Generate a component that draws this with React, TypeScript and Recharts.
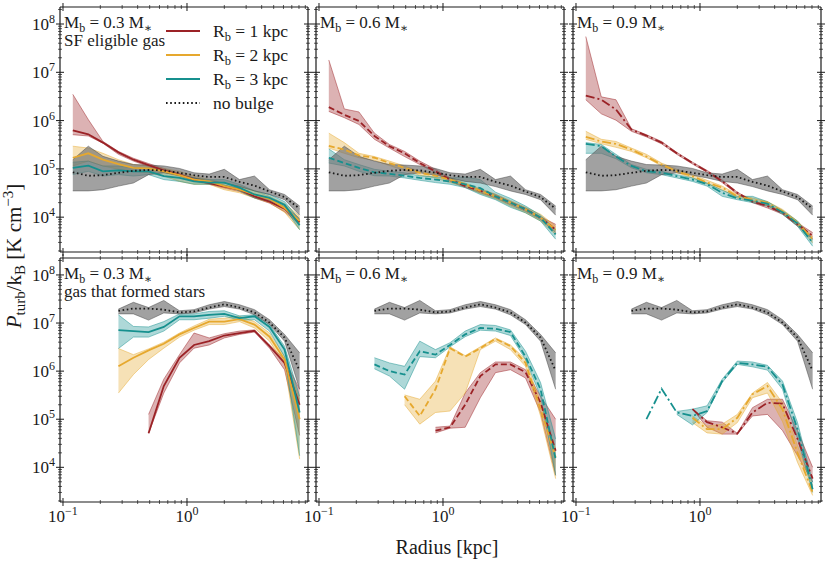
import React from 'react';
import { ComposedChart, Line, Area, XAxis, YAxis } from 'recharts';

const FONT = "'Liberation Serif', 'DejaVu Serif', serif";
const INK = '#1a1a1a';
const N = null;

// radial bin centres [kpc]
const RADII = [0.12, 0.16, 0.21, 0.28, 0.37, 0.49, 0.65, 0.87, 1.14, 1.51, 2.0, 2.65, 3.5, 4.63, 6.12, 8.1];

// axes
const X_DOMAIN = [0.0946, 9.46];
const Y_DOMAIN = [1.9e3, 2.25e8];
const X_MAJOR = [0.1, 1];
const X_MAJOR_EXP = ['\u22121', '0'];
const X_MINOR = [0.2, 0.3, 0.4, 0.5, 0.6, 0.7, 0.8, 0.9, 2, 3, 4, 5, 6, 7, 8, 9];
const Y_MAJOR = [1e4, 1e5, 1e6, 1e7, 1e8];
const Y_MAJOR_EXP = ['4', '5', '6', '7', '8'];
const Y_MINOR = [
  2e3, 3e3, 4e3, 5e3, 6e3, 7e3, 8e3, 9e3,
  2e4, 3e4, 4e4, 5e4, 6e4, 7e4, 8e4, 9e4,
  2e5, 3e5, 4e5, 5e5, 6e5, 7e5, 8e5, 9e5,
  2e6, 3e6, 4e6, 5e6, 6e6, 7e6, 8e6, 9e6,
  2e7, 3e7, 4e7, 5e7, 6e7, 7e7, 8e7, 9e7,
  2e8,
];
const X_TICKS = [...X_MAJOR, ...X_MINOR].sort((a, b) => a - b);
const Y_TICKS = [...Y_MAJOR, ...Y_MINOR].sort((a, b) => a - b);

// labels
const MASS_LABELS = ['0.3', '0.6', '0.9'];
const SUBTITLES = ['SF eligible gas', 'gas that formed stars'];
const LEGEND_RB = ['1', '2', '3'];
const LEGEND_NB = 'no bulge';
const X_LABEL = 'Radius [kpc]';

// ---------- top row: SF eligible gas ----------
const NB_TOP_MID = [8.5e4, 7.2e4, 7.4e4, 8.3e4, 9.1e4, 9.5e4, 9.3e4, 8.3e4, 7.4e4, 6.8e4, 6.8e4, 5.4e4, 4.5e4, 3.4e4, 2.6e4, 1.5e4];
const NB_TOP_HI = [1.55e5, 2.95e5, 1.82e5, 1.45e5, 1.23e5, 1.2e5, 1.15e5, 1.02e5, 8.3e4, 7.8e4, 9.8e4, 6.0e4, 7.1e4, 3.7e4, 2.95e4, 1.7e4];
const NB_TOP_LO = [3.5e4, 3.5e4, 3.7e4, 4.4e4, 5.1e4, 7.6e4, 8.3e4, 7.4e4, 6.5e4, 5.5e4, 5.1e4, 4.3e4, 3.5e4, 2.95e4, 2.3e4, 1.1e4];

const P1_R1_MID = [6.3e5, 5.2e5, 3.5e5, 2.2e5, 1.55e5, 1.2e5, 9.3e4, 7.6e4, 6.0e4, 5.1e4, 4.3e4, 3.7e4, 2.7e4, 2.1e4, 1.5e4, 7.9e3];
const P1_R1_HI = [3.5e6, 1.05e6, 3.7e5, 2.3e5, 1.66e5, 1.29e5, 1.02e5, 8.1e4, 6.5e4, 5.5e4, 4.6e4, 4.0e4, 2.95e4, 2.3e4, 1.66e4, 9.5e3];
const P1_R1_LO = [5.1e5, 4.8e5, 3.4e5, 2.0e5, 1.45e5, 1.12e5, 8.5e4, 7.1e4, 5.6e4, 4.8e4, 4.0e4, 3.4e4, 2.5e4, 1.95e4, 1.3e4, 7.1e3];
const P1_R2_MID = [1.7e5, 2.1e5, 1.55e5, 1.26e5, 1.05e5, 1.02e5, 8.9e4, 7.4e4, 6.0e4, 5.5e4, 4.4e4, 3.7e4, 2.95e4, 2.4e4, 1.55e4, 8.3e3];
const P1_R2_HI = [2.95e5, 2.7e5, 2.1e5, 1.55e5, 1.23e5, 1.15e5, 1.02e5, 8.9e4, 7.1e4, 6.0e4, 5.1e4, 4.4e4, 3.5e4, 2.7e4, 1.9e4, 1.05e4];
const P1_R2_LO = [1.15e5, 1.45e5, 1.15e5, 9.8e4, 8.9e4, 8.3e4, 7.1e4, 5.5e4, 4.8e4, 4.8e4, 3.7e4, 3.2e4, 2.5e4, 2.0e4, 1.26e4, 5.5e3];
const P1_R3_MID = [1.05e5, 1.17e5, 8.9e4, 9.3e4, 8.9e4, 8.9e4, 7.1e4, 6.5e4, 5.5e4, 5.2e4, 5.2e4, 4.1e4, 2.95e4, 2.5e4, 1.8e4, 6.8e3];
const P1_R3_HI = [1.38e5, 1.45e5, 1.15e5, 1.15e5, 1.05e5, 1.05e5, 8.9e4, 7.6e4, 6.5e4, 6.0e4, 6.0e4, 4.8e4, 3.5e4, 2.95e4, 2.1e4, 8.9e3];
const P1_R3_LO = [7.6e4, 8.9e4, 7.1e4, 7.6e4, 7.1e4, 7.6e4, 6.0e4, 5.5e4, 4.8e4, 4.8e4, 4.6e4, 3.5e4, 2.5e4, 2.1e4, 1.55e4, 5.5e3];

const P2_R1_MID = [1.9e6, 1.32e6, 9.8e5, 4.8e5, 2.95e5, 2.1e5, 1.32e5, 8.9e4, 6.0e4, 4.4e4, 3.5e4, 2.7e4, 2.0e4, 1.45e4, 9.8e3, 5.5e3];
const P2_R1_HI = [1.8e7, 1.74e6, 1.51e6, 5.5e5, 3.2e5, 2.3e5, 1.45e5, 9.8e4, 6.5e4, 4.8e4, 3.7e4, 2.95e4, 2.1e4, 1.55e4, 1.02e4, 7.1e3];
const P2_R1_LO = [1.55e6, 1.15e6, 8.3e5, 4.1e5, 2.7e5, 1.8e5, 1.23e5, 8.3e4, 5.5e4, 4.1e4, 3.2e4, 2.5e4, 1.8e4, 1.32e4, 8.9e3, 4.8e3];
const P2_R2_MID = [3.0e5, 2.5e5, 1.9e5, 1.7e5, 1.32e5, 1.05e5, 8.3e4, 7.2e4, 6.0e4, 4.8e4, 3.5e4, 2.7e4, 2.0e4, 1.45e4, 9.8e3, 5.5e3];
const P2_R2_HI = [5.5e5, 3.5e5, 2.1e5, 1.8e5, 1.45e5, 1.15e5, 8.9e4, 8.1e4, 6.5e4, 5.1e4, 3.9e4, 3.0e4, 2.2e4, 1.6e4, 1.15e4, 6.5e3];
const P2_R2_LO = [2.7e5, 2.1e5, 1.7e5, 1.5e5, 1.17e5, 9.3e4, 7.4e4, 6.5e4, 5.2e4, 4.3e4, 3.1e4, 2.4e4, 1.7e4, 1.23e4, 8.3e3, 4.4e3];
const P2_R3_MID = [1.7e5, 1.32e5, 1.05e5, 8.5e4, 7.9e4, 7.2e4, 6.5e4, 6.0e4, 5.5e4, 4.8e4, 4.0e4, 2.7e4, 2.0e4, 1.45e4, 9.8e3, 4.4e3];
const P2_R3_HI = [2.6e5, 1.55e5, 1.23e5, 9.8e4, 8.9e4, 8.3e4, 7.2e4, 6.8e4, 6.5e4, 6.8e4, 6.0e4, 3.3e4, 2.45e4, 1.7e4, 1.1e4, 5.5e3];
const P2_R3_LO = [1.32e5, 1.15e5, 8.9e4, 7.2e4, 7.1e4, 6.5e4, 5.8e4, 5.2e4, 4.8e4, 4.1e4, 2.95e4, 2.3e4, 1.6e4, 1.23e4, 8.3e3, 3.5e3];

const P3_R1_MID = [3.3e6, 2.7e6, 1.7e6, 6.5e5, 4.9e5, 3.5e5, 2.1e5, 1.32e5, 8.9e4, 5.5e4, 3.2e4, 2.1e4, 1.7e4, 1.23e4, 7.1e3, 4.1e3];
const P3_R1_HI = [5.5e7, 3.1e6, 2.7e6, 6.8e5, 5.1e5, 3.7e5, 2.2e5, 1.38e5, 9.3e4, 5.9e4, 3.3e4, 2.2e4, 1.8e4, 1.32e4, 7.6e3, 4.8e3];
const P3_R1_LO = [2.7e6, 1.38e6, 1.02e6, 6.0e5, 4.6e5, 3.3e5, 2.0e5, 1.26e5, 8.5e4, 5.2e4, 3.0e4, 2.0e4, 1.55e4, 1.15e4, 6.5e3, 3.5e3];
const P3_R2_MID = [4.6e5, 3.7e5, 3.3e5, 2.5e5, 1.8e5, 1.23e5, 8.9e4, 7.1e4, 5.2e4, 4.1e4, 2.7e4, 2.3e4, 2.0e4, 1.32e4, 7.6e3, 3.5e3];
const P3_R2_HI = [6.0e5, 4.1e5, 3.7e5, 2.7e5, 2.0e5, 1.32e5, 9.8e4, 7.6e4, 5.8e4, 4.4e4, 2.95e4, 2.5e4, 2.1e4, 1.45e4, 8.3e3, 3.9e3];
const P3_R2_LO = [4.1e5, 3.3e5, 2.8e5, 2.3e5, 1.7e5, 1.15e5, 8.3e4, 6.5e4, 4.9e4, 3.7e4, 2.5e4, 2.1e4, 1.74e4, 1.2e4, 6.8e3, 2.95e3];
const P3_R3_MID = [3.3e5, 2.95e5, 1.8e5, 1.15e5, 8.9e4, 8.3e4, 7.1e4, 6.0e4, 4.8e4, 3.2e4, 2.45e4, 2.2e4, 1.9e4, 1.26e4, 7.4e3, 2.95e3];
const P3_R3_HI = [3.5e5, 3.2e5, 2.0e5, 1.23e5, 9.8e4, 8.9e4, 7.6e4, 6.5e4, 5.1e4, 3.6e4, 2.7e4, 2.7e4, 2.1e4, 1.38e4, 8.3e3, 3.5e3];
const P3_R3_LO = [2.1e5, 2.1e5, 1.62e5, 1.05e5, 8.3e4, 7.6e4, 6.5e4, 5.5e4, 4.4e4, 2.7e4, 2.3e4, 2.0e4, 1.7e4, 1.15e4, 6.5e3, 2.5e3];

// ---------- bottom row: gas that formed stars ----------
const NB_BOT_MID = [N, N, N, 1.8e7, 2.0e7, 2.0e7, 1.9e7, 1.66e7, 1.74e7, 2.1e7, 2.45e7, 2.1e7, 1.66e7, 1.02e7, 5.0e6, 1.02e6];
const NB_BOT_HI = [N, N, N, 1.95e7, 2.7e7, 2.1e7, 2.95e7, 1.8e7, 1.9e7, 2.4e7, 2.8e7, 2.4e7, 1.9e7, 1.17e7, 5.8e6, 2.4e6];
const NB_BOT_LO = [N, N, N, 1.55e7, 1.55e7, 1.15e7, 1.62e7, 1.55e7, 1.62e7, 1.95e7, 2.2e7, 1.95e7, 1.48e7, 9.3e6, 4.2e6, 4.2e5];

const P4_R1_MID = [N, N, N, N, N, 5.1e4, 4.9e5, 1.9e6, 3.5e6, 4.2e6, 5.5e6, 6.2e6, 6.9e6, 3.3e6, 1.48e6, 2.0e5];
const P4_R1_HI = [N, N, N, N, N, 1.26e5, 6.8e5, 2.2e6, 6.2e6, 4.9e6, 6.0e6, 6.8e6, 7.2e6, 3.5e6, 1.74e6, 4.2e5];
const P4_R1_LO = [N, N, N, N, N, 5.1e4, 3.5e5, 1.48e6, 3.0e6, 3.5e6, 4.9e6, 5.8e6, 6.5e6, 3.0e6, 1.07e6, 4.6e4];
const P4_R2_MID = [N, N, N, 1.26e6, 1.9e6, 2.7e6, 3.7e6, 5.8e6, 7.9e6, 1.07e7, 1.07e7, 1.2e7, 9.3e6, 5.2e6, 1.74e6, 1.0e5];
const P4_R2_HI = [N, N, N, 2.95e6, 2.2e6, 2.9e6, 4.0e6, 6.2e6, 8.7e6, 1.2e7, 1.26e7, 1.38e7, 1.07e7, 6.2e6, 2.0e6, 2.6e5];
const P4_R2_LO = [N, N, N, 3.5e5, 8.5e5, 1.74e6, 3.0e6, 5.1e6, 7.1e6, 9.3e6, 9.3e6, 1.07e7, 7.9e6, 4.2e6, 1.38e6, 1.48e4];
const P4_R3_MID = [N, N, N, 7.1e6, 6.8e6, 6.5e6, 8.3e6, 1.38e7, 1.38e7, 1.48e7, 1.55e7, 1.26e7, 1.38e7, 8.3e6, 2.8e6, 1.38e5];
const P4_R3_HI = [N, N, N, 1.48e7, 8.5e6, 8.3e6, 1.07e7, 1.55e7, 1.55e7, 1.74e7, 1.8e7, 1.41e7, 1.48e7, 9.3e6, 3.3e6, 3.0e5];
const P4_R3_LO = [N, N, N, 2.95e6, 5.1e6, 5.1e6, 6.8e6, 1.17e7, 1.17e7, 1.26e7, 1.38e7, 1.15e7, 1.17e7, 6.8e6, 2.0e6, 1.74e4];

const P5_R1_MID = [N, N, N, N, N, N, N, 5.8e4, 6.8e4, 2.0e5, 7.9e5, 1.38e6, 1.38e6, 9.5e5, 2.2e5, 2.2e4];
const P5_R1_HI = [N, N, N, N, N, N, N, 6.8e4, 7.2e4, 3.5e5, 9.3e5, 1.55e6, 1.55e6, 1.07e6, 3.0e5, 1.0e5];
const P5_R1_LO = [N, N, N, N, N, N, N, 5.2e4, 6.5e4, 6.8e4, 2.8e5, 9.3e5, 1.07e6, 7.2e5, 1.38e5, 6.8e3];
const P5_R2_MID = [N, N, N, N, N, 3.0e5, 1.17e5, 4.2e5, 3.0e6, 2.0e6, 3.0e6, 4.7e6, 3.3e6, 1.48e6, 1.62e5, 1.62e4];
const P5_R2_HI = [N, N, N, N, N, 3.2e5, 2.6e5, 6.2e5, 3.2e6, 2.1e6, 3.2e6, 4.9e6, 3.5e6, 1.74e6, 2.2e5, 2.4e4];
const P5_R2_LO = [N, N, N, N, N, 2.0e5, 7.9e4, 1.38e5, 1.48e5, 3.5e5, 2.8e6, 4.2e6, 2.8e6, 1.26e6, 1.17e5, 5.8e3];
const P5_R3_MID = [N, N, N, 1.38e6, 1.0e6, 8.5e5, 2.6e6, 2.2e6, 3.5e6, 5.8e6, 7.9e6, 7.6e6, 6.5e6, 2.0e6, 4.2e5, 1.48e4];
const P5_R3_HI = [N, N, N, 1.9e6, 1.48e6, 1.26e6, 4.2e6, 2.8e6, 3.9e6, 6.8e6, 9.3e6, 8.9e6, 7.2e6, 2.6e6, 5.8e5, 3.9e4];
const P5_R3_LO = [N, N, N, 1.12e6, 7.9e5, 4.2e5, 2.0e6, 1.9e6, 3.2e6, 5.2e6, 7.1e6, 6.8e6, 5.5e6, 1.74e6, 3.0e5, 6.8e3];

const P6_R1_MID = [N, N, N, N, N, N, N, 1.62e5, 8.7e4, 6.8e4, 5.0e4, 1.38e5, 2.2e5, 2.1e5, 3.9e4, 5.8e3];
const P6_R1_HI = [N, N, N, N, N, N, N, 1.62e5, 9.3e4, 8.7e4, 5.1e4, 1.74e5, 2.6e5, 2.6e5, 5.8e4, 1.0e4];
const P6_R1_LO = [N, N, N, N, N, N, N, 1.62e5, 6.8e4, 4.9e4, 4.9e4, 1.17e5, 1.26e5, 5.8e4, 1.74e4, 4.9e3];
const P6_R2_MID = [N, N, N, N, N, N, N, 1.07e5, 6.2e4, 6.2e4, 1.07e5, 3.3e5, 4.9e5, 1.6e5, 2.0e4, 3.0e3];
const P6_R2_HI = [N, N, N, N, N, N, N, 1.17e5, 7.2e4, 7.9e4, 1.26e5, 3.5e5, 5.8e5, 2.2e5, 2.8e4, 4.2e3];
const P6_R2_LO = [N, N, N, N, N, N, N, 8.5e4, 5.2e4, 4.9e4, 8.5e4, 2.8e5, 3.5e5, 8.9e4, 1.26e4, 2.6e3];
const P6_R3_MID = [N, N, N, N, 1.0e5, 4.3e5, 1.38e5, 1.17e5, 1.48e5, 6.2e5, 1.48e6, 1.38e6, 1.23e6, 5.2e5, 6.2e4, 3.5e3];
const P6_R3_HI = [N, N, N, N, N, N, 1.45e5, 1.62e5, 1.9e5, 6.8e5, 1.62e6, 1.55e6, 1.32e6, 6.2e5, 8.5e4, 4.9e3];
const P6_R3_LO = [N, N, N, N, N, N, 1.26e5, 7.6e4, 1.38e5, 5.8e5, 1.38e6, 1.23e6, 1.05e6, 4.2e5, 3.9e4, 3.0e3];

// ---------- styling / layout ----------
const COLORS: Record<string, string> = { r1: '#9b2226', r2: '#e6a82e', r3: '#16908e', nb: '#1a1a1a' };
const BAND_FILL: Record<string, string> = { r1: '#9b2226', r2: '#e6a82e', r3: '#16908e', nb: '#6e6e6e' };
const BAND_OPACITY: Record<string, number> = { r1: 0.35, r2: 0.35, r3: 0.35, nb: 0.65 };
const DASHES = [undefined, '6 3', '9 3 2 3'];
const DOTTED = '1.6 2.6';
const PANEL_W = 248;
const COL_LEFT = [60, 316, 573];
const ROW_TOP = [7, 258];
const ROW_H = [245, 244];
const AXIS_LINE = { stroke: INK, strokeWidth: 1.2 };

type Series = { key: string; mid: (number | null)[]; lo: (number | null)[]; hi: (number | null)[] };

const mk = (key: string, mid: any[], lo: any[], hi: any[]): Series => ({ key, mid, lo, hi });

const PANELS: { row: number; col: number; series: Series[] }[] = [
  { row: 0, col: 0, series: [mk('r1', P1_R1_MID, P1_R1_LO, P1_R1_HI), mk('r2', P1_R2_MID, P1_R2_LO, P1_R2_HI), mk('r3', P1_R3_MID, P1_R3_LO, P1_R3_HI), mk('nb', NB_TOP_MID, NB_TOP_LO, NB_TOP_HI)] },
  { row: 0, col: 1, series: [mk('r1', P2_R1_MID, P2_R1_LO, P2_R1_HI), mk('r2', P2_R2_MID, P2_R2_LO, P2_R2_HI), mk('r3', P2_R3_MID, P2_R3_LO, P2_R3_HI), mk('nb', NB_TOP_MID, NB_TOP_LO, NB_TOP_HI)] },
  { row: 0, col: 2, series: [mk('r1', P3_R1_MID, P3_R1_LO, P3_R1_HI), mk('r2', P3_R2_MID, P3_R2_LO, P3_R2_HI), mk('r3', P3_R3_MID, P3_R3_LO, P3_R3_HI), mk('nb', NB_TOP_MID, NB_TOP_LO, NB_TOP_HI)] },
  { row: 1, col: 0, series: [mk('r1', P4_R1_MID, P4_R1_LO, P4_R1_HI), mk('r2', P4_R2_MID, P4_R2_LO, P4_R2_HI), mk('r3', P4_R3_MID, P4_R3_LO, P4_R3_HI), mk('nb', NB_BOT_MID, NB_BOT_LO, NB_BOT_HI)] },
  { row: 1, col: 1, series: [mk('r1', P5_R1_MID, P5_R1_LO, P5_R1_HI), mk('r2', P5_R2_MID, P5_R2_LO, P5_R2_HI), mk('r3', P5_R3_MID, P5_R3_LO, P5_R3_HI), mk('nb', NB_BOT_MID, NB_BOT_LO, NB_BOT_HI)] },
  { row: 1, col: 2, series: [mk('r1', P6_R1_MID, P6_R1_LO, P6_R1_HI), mk('r2', P6_R2_MID, P6_R2_LO, P6_R2_HI), mk('r3', P6_R3_MID, P6_R3_LO, P6_R3_HI), mk('nb', NB_BOT_MID, NB_BOT_LO, NB_BOT_HI)] },
];

function buildTable(series: Series[]) {
  return RADII.map((r, i) => {
    const row: any = { r };
    series.forEach((s) => {
      row[s.key] = s.mid[i];
      const lo = s.lo[i];
      const hi = s.hi[i];
      row[s.key + 'Band'] = lo != null && hi != null ? [lo, hi] : null;
    });
    return row;
  });
}

function majorIndex(list: number[], v: number) {
  return list.findIndex((m) => Math.abs(m - v) / m < 1e-6);
}

function XTick(props: any) {
  const { x, y, payload, showLabel } = props;
  const mi = majorIndex(X_MAJOR, payload.value);
  const len = mi >= 0 ? 4 : 2;
  return (
    <g>
      <line x1={x} x2={x} y1={y - len} y2={y + len} stroke={INK} strokeWidth={mi >= 0 ? 1 : 0.7} />
      {showLabel && mi >= 0 && (
        <text x={x} y={y + 20} textAnchor="middle" fontFamily={FONT} fontSize={17} fill={INK}>
          10<tspan dy={-7} fontSize={12}>{X_MAJOR_EXP[mi]}</tspan>
        </text>
      )}
    </g>
  );
}

function YTick(props: any) {
  const { x, y, payload, showLabel } = props;
  const mi = majorIndex(Y_MAJOR, payload.value);
  const len = mi >= 0 ? 4 : 2;
  return (
    <g>
      <line x1={x - len} x2={x + len} y1={y} y2={y} stroke={INK} strokeWidth={mi >= 0 ? 1 : 0.7} />
      {showLabel && mi >= 0 && (
        <text x={x - 5} y={y + 6} textAnchor="end" fontFamily={FONT} fontSize={17} fill={INK}>
          10<tspan dy={-7} fontSize={12}>{Y_MAJOR_EXP[mi]}</tspan>
        </text>
      )}
    </g>
  );
}

function Panel({ row, col, series }: { row: number; col: number; series: Series[] }) {
  const data = buildTable(series);
  const dash = DASHES[col];
  const showX = row === 1;
  const showY = col === 0;
  return (
    <div style={{ position: 'absolute', left: COL_LEFT[col] - 1, top: ROW_TOP[row] - 1 }}>
      <ComposedChart width={PANEL_W + 2} height={ROW_H[row] + 2} data={data} margin={{ top: 0, right: 0, bottom: 0, left: 0 }}>
        <XAxis xAxisId="b" dataKey="r" type="number" scale="log" domain={X_DOMAIN} allowDataOverflow ticks={X_TICKS} interval={0}
          height={1} tickSize={0} tickMargin={0} tickLine={false} axisLine={AXIS_LINE}
          tick={(p: any) => <XTick {...p} showLabel={showX} />} />
        <XAxis xAxisId="t" orientation="top" dataKey="r" type="number" scale="log" domain={X_DOMAIN} allowDataOverflow ticks={X_TICKS} interval={0}
          height={1} tickSize={0} tickMargin={0} tickLine={false} axisLine={AXIS_LINE}
          tick={(p: any) => <XTick {...p} showLabel={false} />} />
        <YAxis yAxisId="l" type="number" scale="log" domain={Y_DOMAIN} allowDataOverflow ticks={Y_TICKS} interval={0}
          width={1} tickSize={0} tickMargin={0} tickLine={false} axisLine={AXIS_LINE}
          tick={(p: any) => <YTick {...p} showLabel={showY} />} />
        <YAxis yAxisId="rt" orientation="right" type="number" scale="log" domain={Y_DOMAIN} allowDataOverflow ticks={Y_TICKS} interval={0}
          width={1} tickSize={0} tickMargin={0} tickLine={false} axisLine={AXIS_LINE}
          tick={(p: any) => <YTick {...p} showLabel={false} />} />
        {series.map((s) => (
          <Area key={s.key + 'a'} xAxisId="b" yAxisId="l" type="linear" dataKey={s.key + 'Band'}
            fill={BAND_FILL[s.key]} fillOpacity={BAND_OPACITY[s.key]}
            stroke={s.key === 'nb' ? '#444444' : COLORS[s.key]} strokeOpacity={0.6} strokeWidth={0.8}
            connectNulls={false} dot={false} activeDot={false} isAnimationActive={false} />
        ))}
        {series.map((s) => (
          <Line key={s.key + 'l'} xAxisId="b" yAxisId="l" type="linear" dataKey={s.key}
            stroke={COLORS[s.key]} strokeWidth={1.8}
            strokeDasharray={s.key === 'nb' ? DOTTED : dash}
            connectNulls={false} dot={false} activeDot={false} isAnimationActive={false} />
        ))}
      </ComposedChart>
    </div>
  );
}

function Title({ row, col }: { row: number; col: number }) {
  const x = COL_LEFT[col] + 4;
  const y = ROW_TOP[row] + 21;
  return (
    <g fontFamily={FONT} fill={INK}>
      <text x={x} y={y} fontSize={17}>
        M<tspan dy={4} fontSize={12}>b</tspan>
        <tspan dy={-4}>{' = ' + MASS_LABELS[col] + ' M'}</tspan>
        <tspan dy={4} fontSize={12}>{'\u2217'}</tspan>
      </text>
      {col === 0 && (
        <text x={x} y={y + 18} fontSize={17}>{SUBTITLES[row]}</text>
      )}
    </g>
  );
}

function Overlay() {
  const legendKeys = ['r1', 'r2', 'r3', 'nb'];
  const lx1 = 166;
  const lx2 = 200;
  const ly0 = 31;
  const dy = 24;
  return (
    <svg width={830} height={564} style={{ position: 'absolute', left: 0, top: 0, pointerEvents: 'none' }}>
      {[0, 1].map((r) => [0, 1, 2].map((c) => <Title key={`t${r}${c}`} row={r} col={c} />))}
      {legendKeys.map((k, i) => (
        <g key={k}>
          <line x1={lx1} x2={lx2} y1={ly0 + i * dy} y2={ly0 + i * dy} stroke={COLORS[k]} strokeWidth={1.8}
            strokeDasharray={k === 'nb' ? DOTTED : undefined} />
          <text x={213} y={ly0 + i * dy + 6} fontFamily={FONT} fontSize={17.5} fill={INK}>
            {k === 'nb' ? (
              LEGEND_NB
            ) : (
              <>
                R<tspan dy={4} fontSize={12.5}>b</tspan>
                <tspan dy={-4}>{' = ' + LEGEND_RB[i] + ' kpc'}</tspan>
              </>
            )}
          </text>
        </g>
      ))}
      <text x={447} y={554} textAnchor="middle" fontFamily={FONT} fontSize={20} fill={INK}>{X_LABEL}</text>
      <text transform="rotate(-90 21 256)" x={21} y={256} textAnchor="middle" fontFamily={FONT} fontSize={21} fill={INK}>
        <tspan fontStyle="italic">P</tspan>
        <tspan dy={4} fontSize={15}>turb</tspan>
        <tspan dy={-4}>/k</tspan>
        <tspan dy={4} fontSize={15}>B</tspan>
        <tspan dy={-4}>{' [K cm'}</tspan>
        <tspan dy={-8} fontSize={15}>{'\u22123'}</tspan>
        <tspan dy={8}>]</tspan>
      </text>
    </svg>
  );
}

export default function App() {
  return (
    <div style={{ position: 'absolute', left: 0, top: 0, width: 830, height: 564, background: '#ffffff' }}>
      <style>{'.recharts-surface{overflow:visible}'}</style>
      {PANELS.map((p) => (
        <Panel key={`${p.row}-${p.col}`} row={p.row} col={p.col} series={p.series} />
      ))}
      <Overlay />
    </div>
  );
}
